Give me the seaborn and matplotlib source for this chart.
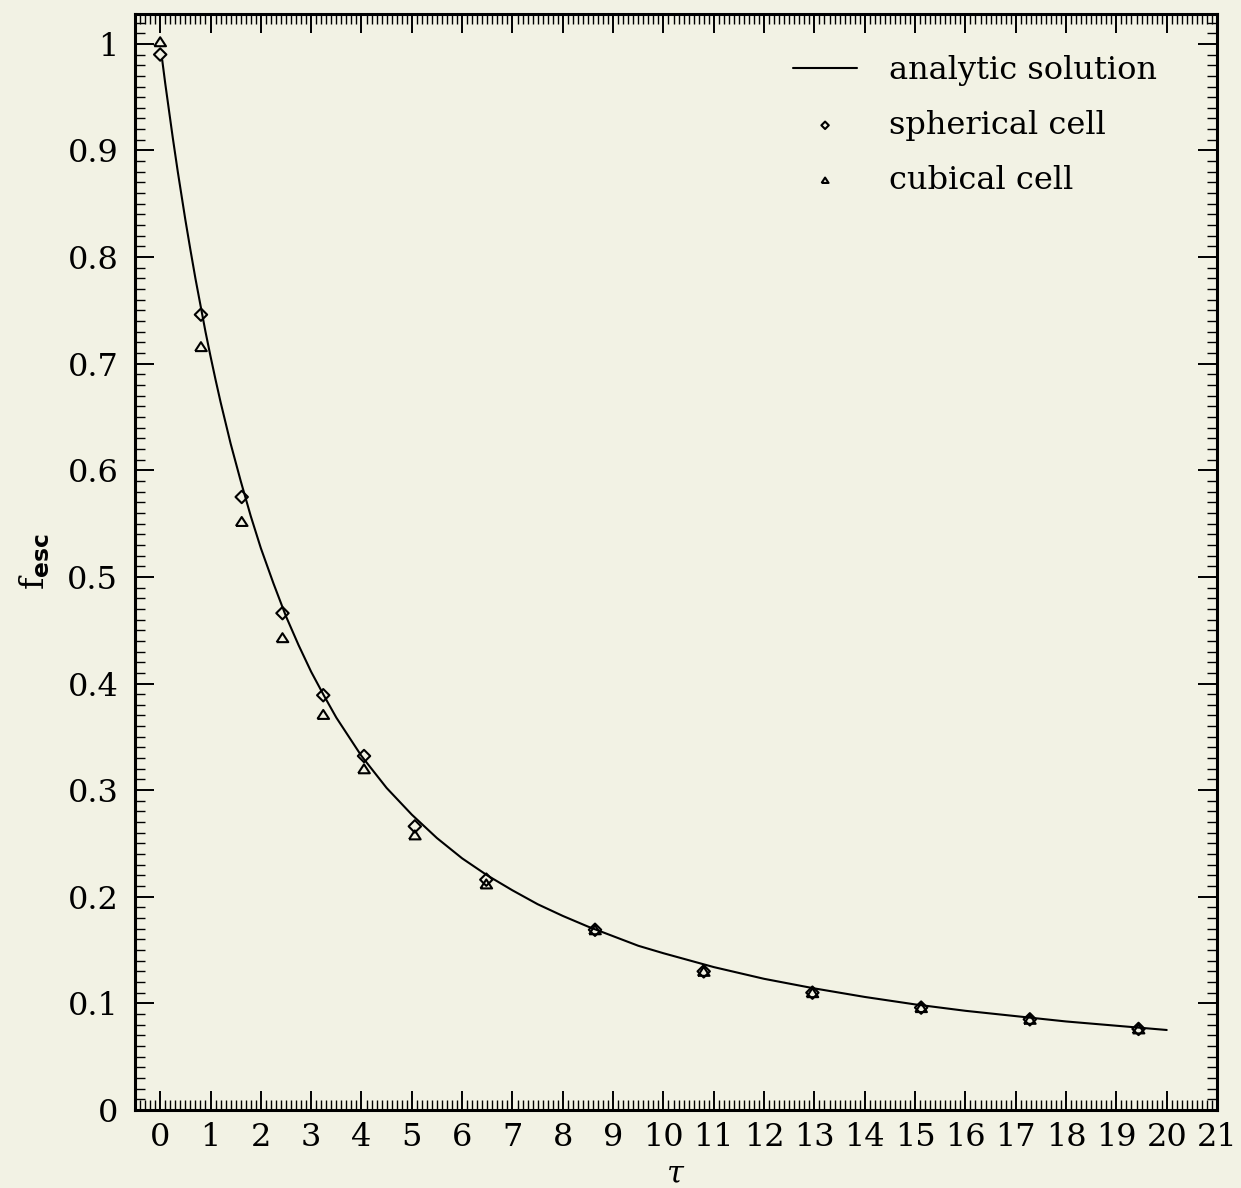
import numpy as np
import matplotlib
matplotlib.use('Agg')
import matplotlib.pyplot as plt
from matplotlib.ticker import MultipleLocator, FixedLocator, FixedFormatter
import seaborn as sns

# analytic curve
tau_curve = [0.04, 0.1, 0.15, 0.2, 0.25, 0.3, 0.35, 0.4, 0.45, 0.5, 0.6, 0.7, 0.8, 0.9,
             1.0, 1.1, 1.2, 1.4, 1.6, 1.8, 2.0, 2.25, 2.5, 2.75, 3.0, 3.25, 3.5, 3.75,
             4.0, 4.5, 5.0, 5.5, 6.0, 6.5, 7.0, 7.5, 8.0, 8.5, 9.0, 9.5, 10.0, 11.0,
             12.0, 13.0, 14.0, 15.0, 16.0, 17.0, 18.0, 19.0, 20.0]
f_curve = [0.985, 0.963, 0.946, 0.929, 0.912, 0.896, 0.880, 0.865, 0.850, 0.835, 0.807,
           0.780, 0.755, 0.730, 0.707, 0.685, 0.664, 0.625, 0.590, 0.557, 0.527, 0.494,
           0.463, 0.436, 0.411, 0.389, 0.368, 0.350, 0.332, 0.302, 0.277, 0.255, 0.236,
           0.220, 0.206, 0.193, 0.182, 0.172, 0.163, 0.154, 0.147, 0.134, 0.123, 0.114,
           0.106, 0.099, 0.093, 0.088, 0.083, 0.079, 0.075]

# simulated points
tau_pts = [0.0, 0.81, 1.62, 2.43, 3.24, 4.05, 5.06, 6.48, 8.64, 10.8, 12.96, 15.12, 17.28, 19.44]
f_sph = [0.990, 0.746, 0.575, 0.466, 0.389, 0.332, 0.266, 0.216, 0.169, 0.130, 0.110, 0.096, 0.085, 0.076]
f_cub = [1.002, 0.716, 0.552, 0.443, 0.371, 0.320, 0.258, 0.212, 0.169, 0.130, 0.110, 0.096, 0.085, 0.076]

xticks = list(range(0, 22))
yticks = [0, 0.1, 0.2, 0.3, 0.4, 0.5, 0.6, 0.7, 0.8, 0.9, 1.0]
ytick_labels = ['0', '0.1', '0.2', '0.3', '0.4', '0.5', '0.6', '0.7', '0.8', '0.9', '1']

bg = '#f2f2e4'
sns.set_style('ticks')
plt.rcParams['font.family'] = ['DejaVu Serif']
plt.rcParams['text.color'] = 'k'
plt.rcParams['xtick.color'] = 'k'
plt.rcParams['ytick.color'] = 'k'
plt.rcParams['axes.labelcolor'] = 'k'
plt.rcParams['mathtext.fontset'] = 'custom'
plt.rcParams['mathtext.rm'] = 'DejaVu Serif'
plt.rcParams['mathtext.it'] = 'DejaVu Serif:italic'
plt.rcParams['mathtext.sf'] = 'DejaVu Sans:bold'

fig = plt.figure(figsize=(12.41, 11.88), dpi=100, facecolor=bg)
ax = fig.add_axes([0.1088, 0.0657, 0.8719, 0.9225])
ax.set_facecolor(bg)

# flat open triangle
tri = [(-1, -0.77), (1, -0.77), (0, 0.77), (-1, -0.77)]

sns.lineplot(x=tau_curve, y=f_curve, color='k', lw=1.5, sort=False, ax=ax,
             label='analytic solution')
sns.scatterplot(x=tau_pts, y=f_sph, marker='D', s=40, color='k', facecolor='none',
                edgecolor='k', linewidth=1.5, ax=ax, label='spherical cell', zorder=3)
sns.scatterplot(x=tau_pts, y=f_cub, marker=tri, s=70, color='k', facecolor='none',
                edgecolor='k', linewidth=1.5, ax=ax, label='cubical cell', zorder=3)

ax.set_xlim(-0.5, 21)
ax.set_ylim(0, 1.028)
ax.xaxis.set_major_locator(FixedLocator(xticks))
ax.xaxis.set_minor_locator(MultipleLocator(0.1))
ax.yaxis.set_major_locator(FixedLocator(yticks))
ax.yaxis.set_major_formatter(FixedFormatter(ytick_labels))
ax.yaxis.set_minor_locator(MultipleLocator(0.01))

ax.tick_params(which='both', direction='in', top=True, right=True, color='k')
ax.tick_params(which='major', length=14, width=1.4, labelsize=23, pad=9)
ax.tick_params(which='minor', length=7, width=1.0)
ax.tick_params(axis='y', which='major', pad=12)
for s in ax.spines.values():
    s.set_linewidth(2.2)
    s.set_color('k')

ax.set_xlabel(r'$\tau$', fontsize=22, labelpad=4)
ax.set_ylabel(r'$\mathrm{f}_{\mathsf{esc}}$', fontsize=24)
ax.yaxis.set_label_coords(-0.077, 0.5)

ax.legend(loc='upper right', frameon=False, fontsize=23, markerscale=0.6,
          handlelength=2.0, handletextpad=1.0, labelspacing=0.75,
          borderaxespad=0.6, bbox_to_anchor=(0.974, 0.992))

fig.savefig('out.png', dpi=100, facecolor=bg)
